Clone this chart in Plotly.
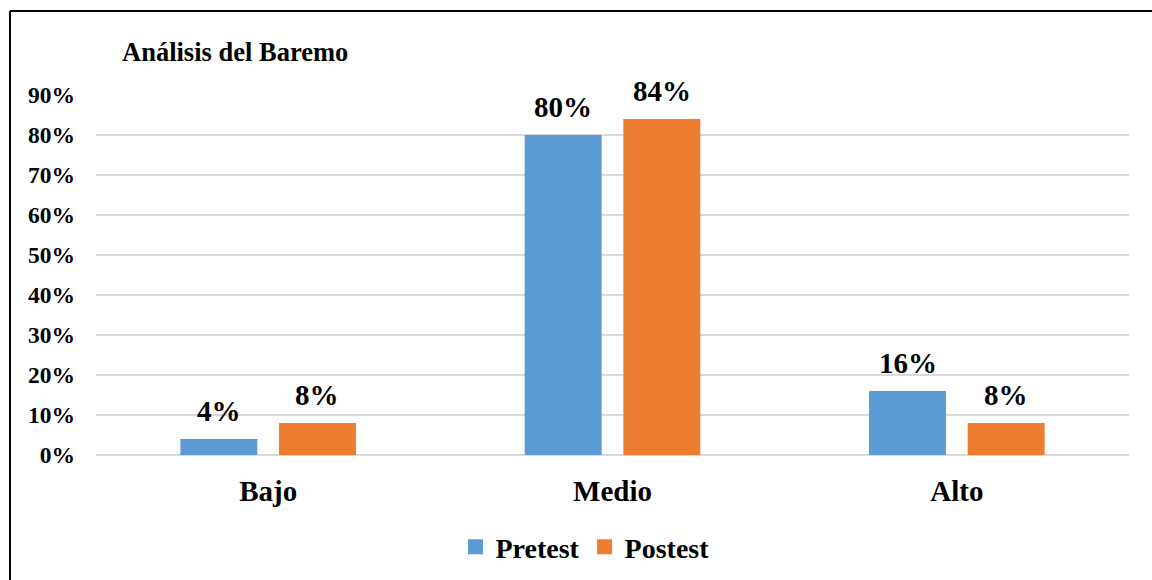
import plotly.graph_objects as go

categories = ["Bajo", "Medio", "Alto"]
pretest = [0.04, 0.80, 0.16]
postest = [0.08, 0.84, 0.08]
series_names = ["Pretest", "Postest"]
tick_vals = [0, 0.1, 0.2, 0.3, 0.4, 0.5, 0.6, 0.7, 0.8, 0.9]

FONT = "Liberation Serif"
COLORS = ["#5B9BD5", "#ED7D31"]
W, H = 1152, 580
ML, MR, MT, MB = 96, 23, 95, 125
PW, PH = W - ML - MR, H - MT - MB
BARGAP, GROUPGAP = 0.427, 0.22

def px_x(x):
    return (x - ML) / PW

def px_y(y):
    return (H - MB - y) / PH

def f(size):
    return dict(family=FONT, size=size, color="black", weight="bold")

fig = go.Figure()
series = [pretest, postest]
for name, vals, col in zip(series_names, series, COLORS):
    fig.add_trace(go.Bar(
        x=categories, y=vals, name=name, showlegend=False,
        marker=dict(color=col, line=dict(width=0)),
        cliponaxis=False,
    ))
    # legend entry with a square marker
    fig.add_trace(go.Scatter(
        x=[None], y=[None], mode="markers", name=name,
        marker=dict(symbol="square", size=15, color=col),
    ))

# value labels above each bar, positioned via the axes
cat_w = PW / len(categories)
slot = cat_w * (1 - BARGAP) / len(series)
annotations = []
for i, vals in enumerate(series):
    shift = (i - (len(series) - 1) / 2) * slot
    for c, v in zip(categories, vals):
        annotations.append(dict(
            x=c, y=v, xref="x", yref="y", text=f"{v:.0%}", showarrow=False,
            xanchor="center", yanchor="bottom", xshift=shift, yshift=10,
            font=f(29)))

annotations.append(dict(text="Análisis del Baremo", xref="paper", yref="paper",
                        x=px_x(120), y=px_y(52), xanchor="left", yanchor="middle",
                        showarrow=False, font=f(26.5)))

fig.update_layout(
    width=W, height=H,
    margin=dict(l=ML, r=MR, t=MT, b=MB, autoexpand=False),
    paper_bgcolor="white", plot_bgcolor="white",
    barmode="group", bargap=BARGAP, bargroupgap=GROUPGAP,
    font=dict(family=FONT, color="black"),
    showlegend=True,
    legend=dict(orientation="h", x=px_x(585), xanchor="center", y=px_y(547), yanchor="middle",
                font=f(28), traceorder="normal", itemwidth=30),
    xaxis=dict(showgrid=False, showline=False, zeroline=False,
               tickfont=f(29), ticklabelstandoff=16),
    yaxis=dict(range=[0, 0.9], tickvals=tick_vals, tickformat=".0%",
               showgrid=True, gridcolor="#D9D9D9", gridwidth=1.5,
               zeroline=True, zerolinecolor="#D9D9D9", zerolinewidth=1.5,
               showline=False, tickfont=f(23.5), ticklabelstandoff=20),
    annotations=annotations,
    shapes=[
        dict(type="line", xref="paper", yref="paper", x0=px_x(10), x1=px_x(10),
             y0=px_y(11), y1=px_y(600), line=dict(color="black", width=2)),
        dict(type="line", xref="paper", yref="paper", x0=px_x(10), x1=px_x(1200),
             y0=px_y(11), y1=px_y(11), line=dict(color="black", width=2)),
    ],
)
fig.write_html("out.html")
